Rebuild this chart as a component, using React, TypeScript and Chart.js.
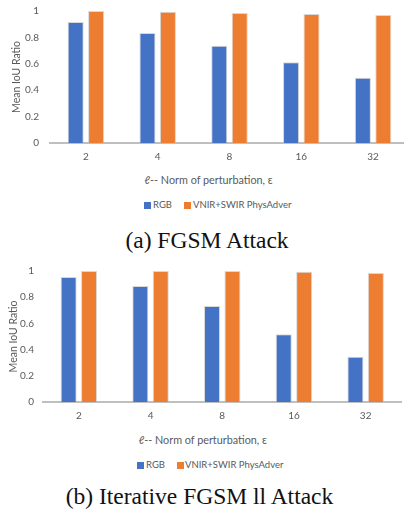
import React, { useEffect, useRef } from 'react';
import { Chart, registerables } from 'chart.js';

Chart.register(...registerables);

const categories = ['2', '4', '8', '16', '32'];
const yTicks = [0, 0.2, 0.4, 0.6, 0.8, 1];
const seriesNames = ['RGB', 'VNIR+SWIR PhysAdver'];
const rgbFgsm = [0.917, 0.834, 0.736, 0.612, 0.494];
const physFgsm = [1.0, 0.995, 0.985, 0.977, 0.97];
const rgbIter = [0.954, 0.885, 0.733, 0.517, 0.346];
const physIter = [1.0, 1.0, 1.0, 0.995, 0.985];
const xTitle = 'ℓ-- Norm of perturbation, ε';
const yTitle = 'Mean IoU Ratio';
const captions = ['(a) FGSM Attack', '(b) Iterative FGSM ll Attack'];

const BLUE = '#4472C4';
const ORANGE = '#ED7D31';
const TEXT = '#595959';
const AXIS = '#BFBFBF';
const FONT = 'Lato';
const SERIF = "'Liberation Serif', 'Times New Roman', Times, serif";

type BarProps = {
  rgb: number[];
  phys: number[];
  yWidth: number;
  tickPad: number;
  titlePad: number;
  width: number;
  height: number;
  padTop: number;
  padRight: number;
  xHeight: number;
};

function BarChart(p: BarProps) {
  const ref = useRef<HTMLCanvasElement | null>(null);
  useEffect(() => {
    if (!ref.current) return;
    const chart = new Chart(ref.current, {
      type: 'bar',
      data: {
        labels: categories,
        datasets: [
          {
            label: seriesNames[0],
            data: p.rgb,
            backgroundColor: BLUE,
            borderColor: 'rgba(190,190,190,0.6)',
            borderWidth: 1,
          },
          {
            label: seriesNames[1],
            data: p.phys,
            backgroundColor: ORANGE,
            borderColor: 'rgba(190,190,190,0.6)',
            borderWidth: 1,
          },
        ],
      },
      options: {
        animation: false,
        responsive: false,
        maintainAspectRatio: false,
        layout: { padding: { top: p.padTop, right: p.padRight, left: 0, bottom: 0 } },
        plugins: { legend: { display: false }, tooltip: { enabled: false } },
        datasets: { bar: { categoryPercentage: 0.57, barPercentage: 0.785 } },
        scales: {
          x: {
            grid: { display: false, drawTicks: false },
            border: { display: true, color: AXIS, width: 2 },
            ticks: {
              color: TEXT,
              font: { family: FONT, size: 10 },
              padding: 8,
              maxRotation: 0,
              autoSkip: false,
            },
            afterFit: (s: any) => {
              s.height = p.xHeight;
            },
          },
          y: {
            min: 0,
            max: 1,
            grid: { display: false, drawTicks: false },
            border: { display: false },
            ticks: {
              color: TEXT,
              font: { family: FONT, size: 10 },
              padding: p.tickPad,
              callback: (v: any) => String(v),
            },
            afterBuildTicks: (s: any) => {
              s.ticks = yTicks.map((v) => ({ value: v }));
            },
            title: {
              display: true,
              text: yTitle,
              color: TEXT,
              font: { family: FONT, size: 10.5 },
              padding: { top: p.titlePad, bottom: 0 },
            },
            afterFit: (s: any) => {
              s.width = p.yWidth;
              s.paddingTop = 0;
              s.paddingBottom = 0;
            },
          },
        },
      },
    } as any);
    return () => chart.destroy();
  }, []);
  return (
    <canvas
      ref={ref}
      width={p.width}
      height={p.height}
      style={{ display: 'block', width: p.width, height: p.height }}
    />
  );
}

function Legend({ top, boxes, texts }: { top: number; boxes: number[]; texts: number[] }) {
  const colors = [BLUE, ORANGE];
  return (
    <>
      {seriesNames.map((name, i) => (
        <React.Fragment key={name}>
          <div
            style={{
              position: 'absolute',
              left: boxes[i],
              top: top - 3.5,
              width: 7,
              height: 7,
              background: colors[i],
            }}
          />
          <div
            style={{
              position: 'absolute',
              left: texts[i],
              top: top - 7,
              height: 14,
              lineHeight: '14px',
              fontFamily: FONT,
              fontSize: 9.5,
              color: TEXT,
              whiteSpace: 'nowrap',
            }}
          >
            {name}
          </div>
        </React.Fragment>
      ))}
    </>
  );
}

function CenterText({ cx, cy, text, font, size, color }: { cx: number; cy: number; text: string; font: string; size: number; color: string }) {
  return (
    <div
      style={{
        position: 'absolute',
        left: cx,
        top: cy - size * 0.7,
        height: size * 1.4,
        lineHeight: `${size * 1.4}px`,
        transform: 'translateX(-50%)',
        fontFamily: font,
        fontSize: size,
        color,
        whiteSpace: 'nowrap',
      }}
    >
      {text}
    </div>
  );
}

export default function App() {
  return (
    <div
      style={{
        position: 'absolute',
        left: 0,
        top: 0,
        width: 404,
        height: 512,
        overflow: 'hidden',
        background: '#fff',
      }}
    >
      <div style={{ position: 'absolute', left: 0, top: 0 }}>
        <BarChart
          rgb={rgbFgsm}
          phys={physFgsm}
          yWidth={50}
          tickPad={11}
          titlePad={10}
          width={412}
          height={166}
          padTop={11}
          padRight={3}
          xHeight={23}
        />
      </div>
      <CenterText cx={208.5} cy={180} text={xTitle} font={FONT} size={10.8} color={TEXT} />
      <Legend top={205} boxes={[144, 184]} texts={[153, 193]} />
      <CenterText cx={207} cy={240} text={captions[0]} font={SERIF} size={23.5} color="#111" />

      <div style={{ position: 'absolute', left: 0, top: 260 }}>
        <BarChart
          rgb={rgbIter}
          phys={physIter}
          yWidth={43}
          tickPad={9}
          titlePad={7}
          width={404}
          height={166}
          padTop={11}
          padRight={2.5}
          xHeight={24}
        />
      </div>
      <CenterText cx={202.7} cy={440} text={xTitle} font={FONT} size={10.8} color={TEXT} />
      <Legend top={465} boxes={[137, 177]} texts={[146, 185]} />
      <CenterText cx={199.5} cy={496} text={captions[1]} font={SERIF} size={23.5} color="#111" />
    </div>
  );
}
